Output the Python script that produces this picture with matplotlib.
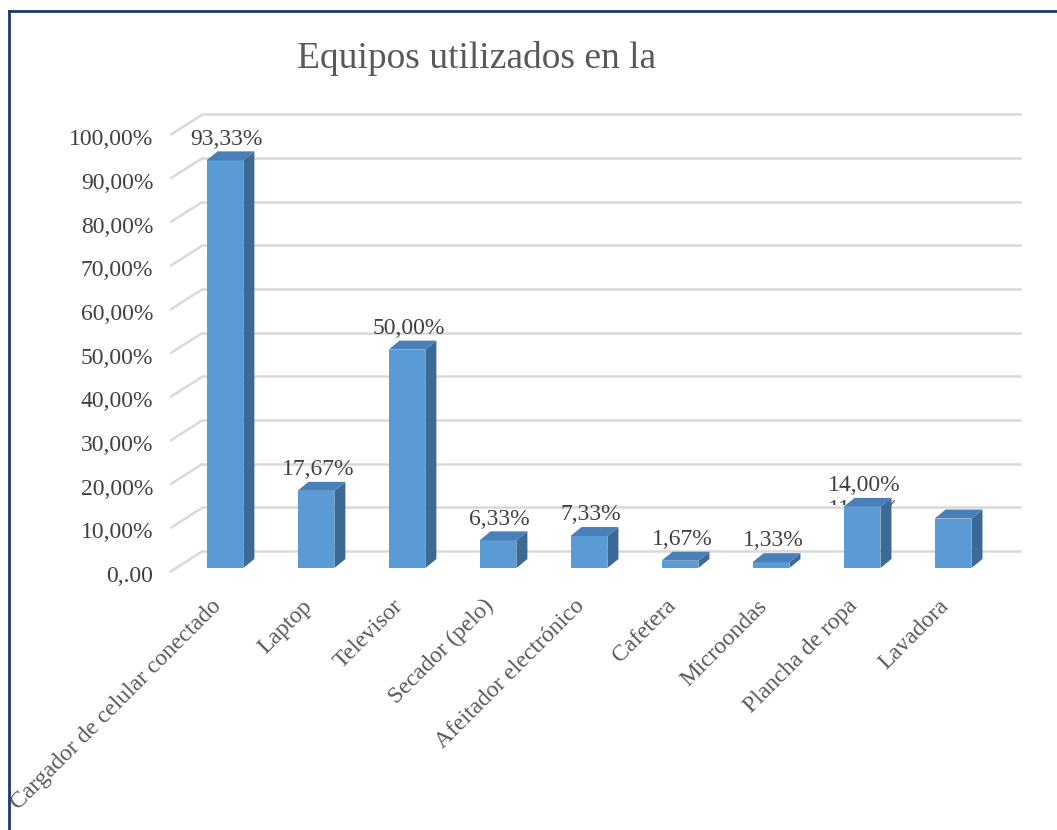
import matplotlib
matplotlib.use("Agg")
import matplotlib.pyplot as plt
from matplotlib.patches import Polygon, Rectangle
from matplotlib.lines import Line2D
from matplotlib.transforms import ScaledTranslation

# data
categories = ["Cargador de celular conectado", "Laptop", "Televisor",
              "Secador (pelo)", "Afeitador electrónico", "Cafetera",
              "Microondas", "Plancha de ropa", "Lavadora"]
values = [93.33, 17.67, 50.00, 6.33, 7.33, 1.67, 1.33, 14.00, 11.33]
value_labels = ["93,33%", "17,67%", "50,00%", "6,33%", "7,33%",
                "1,67%", "1,33%", "14,00%", "11,33%"]
y_ticks = [0, 10, 20, 30, 40, 50, 60, 70, 80, 90, 100]
y_tick_labels = ["0,.00", "10,00%", "20,00%", "30,00%", "40,00%", "50,00%",
                 "60,00%", "70,00%", "80,00%", "90,00%", "100,00%"]

serif = "Liberation Serif"
front_col = "#5B9BD5"
side_col = "#3C6A94"
top_col = "#4A80B8"
grid_col = "#D9D9D9"
text_col = "#404040"

fig = plt.figure(figsize=(10.57, 8.30), dpi=100)
ax = fig.add_axes([0.1608, 0.3072, 0.8061, 0.5663])
xmin, xmax = -0.604, 8.758
ax.set_xlim(xmin, xmax)
ax.set_ylim(-1.6, 106)
for s in ax.spines.values():
    s.set_visible(False)
ax.set_xticks([])

# 3d look: wall offset and bar depth offset (data units)
wall_dx, wall_dy, front_dy = 0.362, 3.9, -0.9
bar_w, bar_dx, bar_dy = 0.405, 0.121, 2.06

# gridlines on the back wall plus slanted side lines
for t in y_ticks:
    ax.plot([xmin, xmin + wall_dx], [t + front_dy, t + wall_dy],
            color=grid_col, lw=1.8, zorder=1, solid_capstyle="butt")
    ax.plot([xmin + wall_dx, xmax], [t + wall_dy, t + wall_dy],
            color=grid_col, lw=1.8, zorder=1)

ax.set_yticks(y_ticks, y_tick_labels)
ax.tick_params(axis="y", length=0, pad=12, labelsize=17, labelcolor=text_col)
for lab in ax.get_yticklabels():
    lab.set_fontfamily(serif)
    lab.set_transform(lab.get_transform() +
                      ScaledTranslation(0, -6 / 100, fig.dpi_scale_trans))

xs = list(range(len(categories)))
ax.bar(xs, values, width=bar_w, color=front_col, zorder=3)
for x, v in zip(xs, values):
    r = x + bar_w / 2
    l = x - bar_w / 2
    ax.add_patch(Polygon([(r, 0), (r + bar_dx, bar_dy), (r + bar_dx, v + bar_dy), (r, v)],
                         closed=True, facecolor=side_col, edgecolor="none", zorder=3))
    ax.add_patch(Polygon([(l, v), (l + bar_dx, v + bar_dy), (r + bar_dx, v + bar_dy), (r, v)],
                         closed=True, facecolor=top_col, edgecolor="none", zorder=3))

# value labels (the last one sits under the Plancha label, as in the original)
for x, v, lab in zip(xs[:-1], values[:-1], value_labels[:-1]):
    ax.text(x + 0.02, v + bar_dy + 0.4, lab, ha="center", va="bottom",
            fontsize=17, family=serif, color=text_col, zorder=4)
hid = ax.text(xs[-2] + 0.02, values[-2] + bar_dy - 0.3, value_labels[-1],
              ha="center", va="top", fontsize=17, family=serif,
              color=text_col, zorder=2)
hid.set_clip_on(True)
hid.set_clip_path(Rectangle((xs[-2] - 1, values[-2] + 0.5), 2, 10,
                            transform=ax.transData))

# category labels rotated 45 degrees
for x, c in zip(xs, categories):
    ax.text(x - 0.08, -8.0, c, rotation=45, rotation_mode="anchor",
            ha="right", va="center", fontsize=17, family=serif,
            color="#595959")

fig.text(0.451, 0.929, "Equipos utilizados en la", ha="center", va="center",
         fontsize=27, family=serif, color="#595959")

# dark blue frame of the original chart box (left and top edges)
fig.add_artist(Line2D([0.0085, 0.0085], [0, 0.987], color="#1F3864", lw=2,
                      transform=fig.transFigure))
fig.add_artist(Line2D([0.0085, 1.0], [0.987, 0.987], color="#1F3864", lw=2,
                      transform=fig.transFigure))

fig.savefig("out.png", dpi=100)
